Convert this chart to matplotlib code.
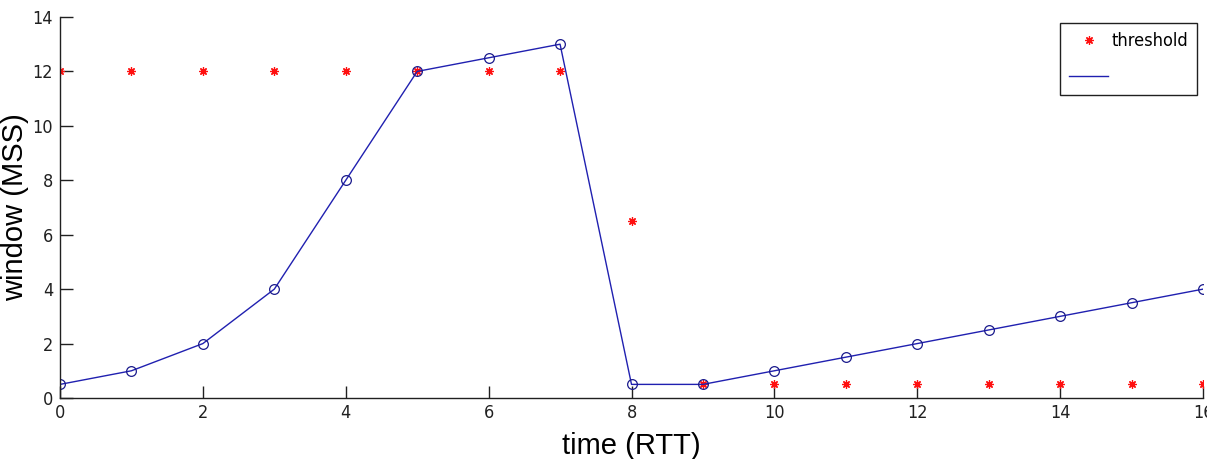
import matplotlib.pyplot as plt
from matplotlib import font_manager
from matplotlib.font_manager import FontProperties

# %%
# Data
time_rtt = list(range(17))
threshold = [12, 12, 12, 12, 12, 12, 12, 12, 6.5, 0.5, 0.5, 0.5, 0.5, 0.5, 0.5, 0.5, 0.5]
window = [0.5, 1, 2, 4, 8, 12, 12.5, 13, 0.5, 0.5, 1, 1.5, 2, 2.5, 3, 3.5, 4]

x_ticks = list(range(0, 17, 2))
y_ticks = list(range(0, 15, 2))

# the tick labels use a narrow font; take an upright condensed one if installed
narrow_file = None
for f in font_manager.fontManager.ttflist:
    tag = (f.name + " " + str(f.stretch)).lower()
    if ("narrow" in tag or "condensed" in tag) and f.style == "normal" \
            and f.weight in (400, "normal", "regular"):
        narrow_file = f.fname
        break
if narrow_file:
    tick_font = FontProperties(fname=narrow_file, size=13)
else:
    tick_font = FontProperties(family="Roboto", size=12)

fig = plt.figure(figsize=(12.07, 4.59), dpi=100)
ax = fig.add_axes([0.0497, 0.1329, 0.9470, 0.8301])

ax.plot(time_rtt, threshold, linestyle="none", marker=(8, 2, 0), markersize=6,
        markeredgewidth=0.9, color="#ff1010", label="threshold")
ax.plot(time_rtt, window, color="#2020b0", linewidth=1.0, label=" ")
ax.plot(time_rtt, window, linestyle="none", marker="o", markersize=7,
        markerfacecolor="none", markeredgecolor="#1a1a8c", markeredgewidth=0.9,
        label="_nolegend_")

ax.set_xlim(0, 16)
ax.set_ylim(0, 14)
ax.set_xticks(x_ticks)
ax.set_yticks(y_ticks)
for side in ("top", "right"):
    ax.spines[side].set_visible(False)
for side in ("left", "bottom"):
    ax.spines[side].set_color("#202020")
    ax.spines[side].set_linewidth(1.0)
ax.tick_params(direction="in", length=9, width=1.0, colors="#202020")
ax.tick_params(axis="x", pad=4)
ax.tick_params(axis="y", pad=5)
for lbl in ax.get_xticklabels() + ax.get_yticklabels():
    lbl.set_fontproperties(tick_font)

ax.set_xlabel("time (RTT)", fontsize=21, family="Liberation Sans")
ax.set_ylabel("window (MSS)", fontsize=21, family="Liberation Sans")
ax.xaxis.set_label_coords(0.5, -0.09)
ax.yaxis.set_label_coords(-0.027, 0.5)

leg_font = tick_font.copy()
leg_font.set_size(13)
leg = ax.legend(loc="upper right", bbox_to_anchor=(0.9917, 0.950),
                bbox_transform=fig.transFigure, prop=leg_font,
                fancybox=False, edgecolor="#202020", handlelength=2.2,
                borderpad=0.5, labelspacing=1.0, handletextpad=0.15,
                borderaxespad=0, framealpha=1)
leg.get_frame().set_linewidth(1.0)

fig.savefig("out.png", dpi=100)
